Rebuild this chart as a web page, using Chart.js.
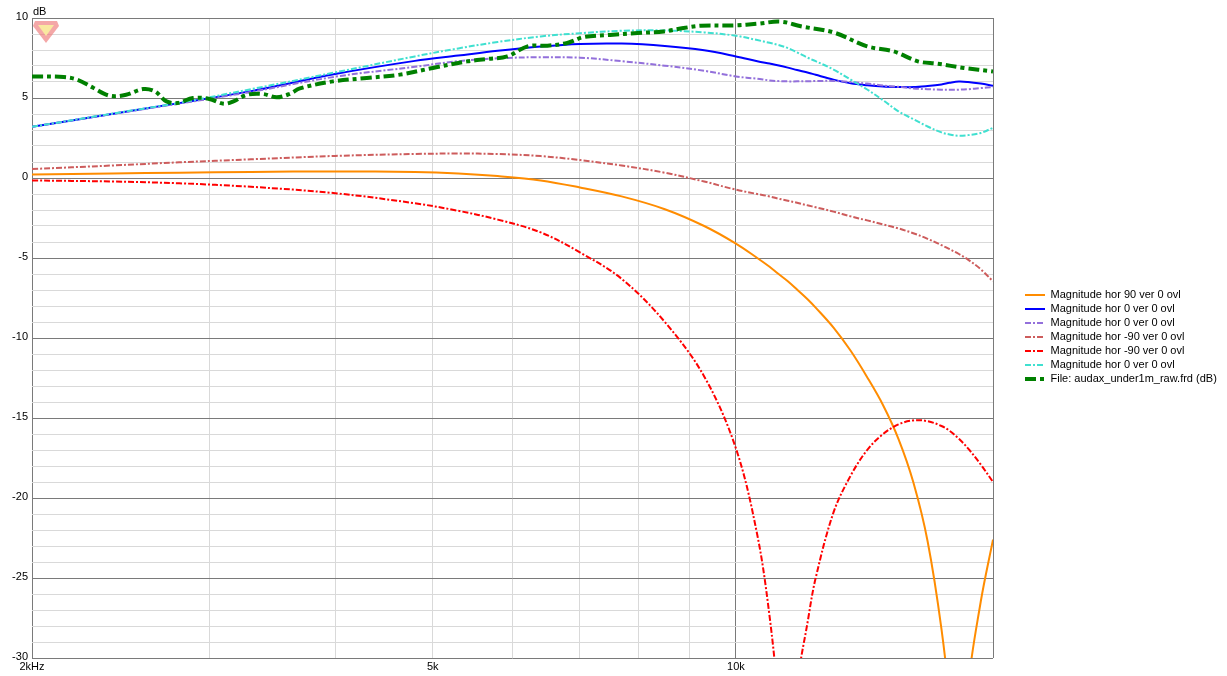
<!DOCTYPE html>
<html>
<head>
<meta charset="utf-8">
<title>Magnitude</title>
<script src="https://cdn.jsdelivr.net/npm/chart.js@4.4.1/dist/chart.umd.min.js"></script>
<style>
    html, body { margin: 0; padding: 0; background: #ffffff; }
    #contenedor { width: 1227px; height: 676px; }
</style>
</head>
<body>
<div id="contenedor"><canvas id="grafica" width="1227" height="676"></canvas></div>
<script>
// Frecuencias comunes (Hz) para las curvas simuladas
var frecuencias = [2000, 2400, 2800, 3300, 4000, 4800, 5300, 5800, 6400, 7000, 7700, 8500, 9300, 10000,
    10500, 10800, 11000, 11260, 11500, 11800, 12000, 12500, 13000, 13500, 14000, 14500, 15000, 15500,
    16000, 16300, 16650, 17000, 17500, 18000];

// Magnitudes en dB
var magHor90 = [0.22, 0.28, 0.33, 0.38, 0.41, 0.37, 0.28, 0.12, -0.15, -0.59, -1.15, -1.95, -3.0, -4.1,
    -5.0, -5.55, -5.95, -6.45, -6.97, -7.62, -8.1, -9.35, -10.8, -12.45, -14.2, -16.3, -19.0, -22.7,
    -28.2, -33, -45, -32, -26.5, -22.6];
var magHor0 = [3.2, 4.0, 4.68, 5.43, 6.5, 7.32, 7.65, 7.95, 8.22, 8.38, 8.4, 8.25, 7.98, 7.6,
    7.3, 7.15, 7.05, 6.9, 6.75, 6.58, 6.45, 6.15, 5.92, 5.8, 5.72, 5.69, 5.68, 5.75,
    5.85, 5.95, 6.03, 6.0, 5.9, 5.77];
var magHor0b = [3.2, 4.0, 4.65, 5.38, 6.33, 6.95, 7.3, 7.48, 7.55, 7.52, 7.3, 7.02, 6.7, 6.35,
    6.2, 6.1, 6.06, 6.04, 6.04, 6.05, 6.06, 6.07, 6.0, 5.9, 5.78, 5.7, 5.6, 5.55,
    5.52, 5.51, 5.52, 5.55, 5.62, 5.69];
var magHorM90 = [0.56, 0.78, 0.98, 1.17, 1.38, 1.5, 1.53, 1.5, 1.37, 1.12, 0.78, 0.33, -0.22, -0.73,
    -1.0, -1.15, -1.28, -1.42, -1.55, -1.72, -1.83, -2.1, -2.4, -2.65, -2.9, -3.15, -3.45, -3.8,
    -4.2, -4.45, -4.75, -5.1, -5.7, -6.46];
var magHorM90b = [-0.15, -0.22, -0.33, -0.55, -0.95, -1.58, -2.05, -2.6, -3.4, -4.65, -6.3, -9.0, -12.4, -16.9,
    -22.3, -27.4, -32.5, -45, -32, -27.5, -25, -20.9, -18.6, -17.0, -16.0, -15.4, -15.15, -15.2,
    -15.5, -15.8, -16.3, -16.9, -17.9, -19.0];
var magHor0c = [3.2, 4.02, 4.7, 5.55, 6.6, 7.6, 8.1, 8.5, 8.85, 9.05, 9.2, 9.22, 9.1, 8.89,
    8.62, 8.45, 8.33, 8.12, 7.85, 7.5, 7.3, 6.78, 6.15, 5.53, 4.86, 4.17, 3.68, 3.22,
    2.85, 2.72, 2.64, 2.68, 2.81, 3.14];

// Medicion del archivo (mas puntos porque tiene rizado)
var frecArchivo = [2000, 2150, 2220, 2300, 2390, 2480, 2580, 2650, 2720, 2790, 2890, 3000, 3100, 3170,
    3270, 3390, 3500, 3610, 3690, 3980, 4300, 4640, 5000, 5410, 5660, 5930, 6210, 6500, 6800,
    7060, 7500, 7990, 8480, 8870, 9230, 9990, 10500, 11080, 11600, 12500, 13500, 14350, 15160,
    15870, 16840, 18000];
var magArchivo = [6.35, 6.31, 6.14, 5.64, 5.14, 5.2, 5.56, 5.41, 4.79, 4.69, 5.0, 4.94, 4.64, 4.79,
    5.2, 5.25, 5.04, 5.27, 5.6, 6.04, 6.25, 6.46, 6.88, 7.29, 7.44, 7.6, 8.23, 8.27, 8.44,
    8.81, 8.94, 9.06, 9.16, 9.37, 9.52, 9.54, 9.64, 9.77, 9.48, 9.1, 8.23, 7.91, 7.29,
    7.14, 6.88, 6.66];

// Ejes
var xTicks = [2000, 3000, 4000, 5000, 6000, 7000, 8000, 9000, 10000, 18000];
var xEtiquetas = ['2kHz', '', '', '5k', '', '', '', '', '10k', ''];
var xMayores = [2000, 10000, 18000];
var yTicks = [-30, -29, -28, -27, -26, -25, -24, -23, -22, -21, -20, -19, -18, -17, -16, -15, -14, -13,
    -12, -11, -10, -9, -8, -7, -6, -5, -4, -3, -2, -1, 0, 1, 2, 3, 4, 5, 6, 7, 8, 9, 10];
var yMayores = [-30, -25, -20, -15, -10, -5, 0, 5, 10];

var colorMayor = '#7a7a7a';
var colorMenor = '#d9d9d9';
var fuente = "'Liberation Sans', Arial, sans-serif";

function puntos(frec, mags) {
    return frec.map(function (f, i) {
        return { x: f, y: mags[i] };
    });
}

function serie(label, frec, mags, color, ancho, guiones, orden) {
    return {
        label: label,
        data: puntos(frec, mags),
        borderColor: color,
        backgroundColor: color,
        borderWidth: ancho,
        borderDash: guiones,
        pointRadius: 0,
        fill: false,
        tension: 0.35,
        clip: 0,
        order: orden
    };
}

var rayaPunto = [6, 2, 2, 2];

var datasets = [
    serie('Magnitude hor 90 ver 0 ovl', frecuencias, magHor90, '#FF8C00', 2, [], 7),
    serie('Magnitude hor 0 ver 0 ovl', frecuencias, magHor0, '#0000FF', 2, [], 6),
    serie('Magnitude hor 0 ver 0 ovl', frecuencias, magHor0b, '#9370DB', 2, rayaPunto, 5),
    serie('Magnitude hor -90 ver 0 ovl', frecuencias, magHorM90, '#CD5C5C', 2, rayaPunto, 4),
    serie('Magnitude hor -90 ver 0 ovl', frecuencias, magHorM90b, '#FF0000', 2, rayaPunto, 3),
    serie('Magnitude hor 0 ver 0 ovl', frecuencias, magHor0c, '#40E0D0', 2, rayaPunto, 2),
    serie('File: audax_under1m_raw.frd (dB)', frecArchivo, magArchivo, '#008000', 4, [11, 4, 4, 4], 1)
];

// Ajustes de la leyenda y textos extra
var pluginExtras = {
    id: 'extras',
    beforeInit: function (chart) {
        var fitOriginal = chart.legend.fit;
        chart.legend.fit = function () {
            fitOriginal.call(this);
            this.width = 234;
        };
    },
    afterLayout: function (chart) {
        var leyenda = chart.legend;
        leyenda.left += 29;
        leyenda.right += 29;
        leyenda.top -= 10;
        leyenda.bottom -= 10;
    },
    beforeDatasetsDraw: function (chart) {
        // logo
        var ctx = chart.ctx;
        ctx.save();
        ctx.beginPath();
        ctx.moveTo(35, 21);
        ctx.lineTo(57, 21);
        ctx.lineTo(59, 26);
        ctx.lineTo(46, 43);
        ctx.lineTo(33, 26);
        ctx.closePath();
        ctx.fillStyle = 'rgba(238, 120, 120, 0.65)';
        ctx.fill();
        ctx.beginPath();
        ctx.moveTo(38, 25);
        ctx.lineTo(54, 25);
        ctx.lineTo(46, 36);
        ctx.closePath();
        ctx.fillStyle = 'rgba(250, 240, 160, 0.9)';
        ctx.fill();
        ctx.restore();
    },
    afterDraw: function (chart) {
        var ctx = chart.ctx;
        ctx.save();
        ctx.font = '11px ' + fuente;
        ctx.fillStyle = '#000000';
        ctx.textBaseline = 'alphabetic';
        ctx.fillText('dB', chart.chartArea.left + 1, chart.chartArea.top - 3);
        ctx.restore();
    }
};

var ctx = document.getElementById('grafica').getContext('2d');
var grafica = new Chart(ctx, {
    type: 'line',
    data: { datasets: datasets },
    plugins: [pluginExtras],
    options: {
        responsive: false,
        animation: false,
        layout: { padding: { top: 18, left: 0, right: 0, bottom: 0 } },
        plugins: {
            tooltip: { enabled: false },
            legend: {
                display: true,
                position: 'right',
                align: 'center',
                labels: {
                    color: '#000000',
                    font: { size: 11, family: fuente },
                    padding: 3,
                    usePointStyle: true,
                    pointStyleWidth: 20,
                    generateLabels: function (chart) {
                        return chart.data.datasets.map(function (ds, i) {
                            return {
                                text: ds.label,
                                datasetIndex: i,
                                strokeStyle: ds.borderColor,
                                fillStyle: ds.borderColor,
                                lineWidth: ds.borderWidth,
                                lineDash: ds.borderDash,
                                lineCap: 'butt',
                                pointStyle: 'line',
                                fontColor: '#000000',
                                hidden: false
                            };
                        });
                    }
                }
            }
        },
        scales: {
            x: {
                type: 'logarithmic',
                min: 2000,
                max: 18000,
                afterBuildTicks: function (scale) {
                    scale.ticks = xTicks.map(function (v) { return { value: v }; });
                },
                afterFit: function (scale) {
                    scale.height = 18;
                },
                ticks: {
                    autoSkip: false,
                    maxRotation: 0,
                    padding: 2,
                    color: '#000000',
                    font: { size: 11, family: fuente },
                    callback: function (value, index) {
                        return xEtiquetas[index];
                    }
                },
                grid: {
                    drawTicks: false,
                    lineWidth: 1,
                    color: function (c) {
                        return (c.tick && xMayores.indexOf(c.tick.value) >= 0) ? colorMayor : colorMenor;
                    }
                },
                border: { display: false }
            },
            y: {
                type: 'linear',
                min: -30,
                max: 10,
                afterBuildTicks: function (scale) {
                    scale.ticks = yTicks.map(function (v) { return { value: v }; });
                },
                afterFit: function (scale) {
                    scale.width = 32;
                },
                ticks: {
                    autoSkip: false,
                    padding: 4,
                    labelOffset: -1,
                    color: '#000000',
                    font: { size: 11, family: fuente },
                    callback: function (value) {
                        return yMayores.indexOf(value) >= 0 ? String(value) : '';
                    }
                },
                grid: {
                    drawTicks: false,
                    lineWidth: 1,
                    color: function (c) {
                        return (c.tick && yMayores.indexOf(c.tick.value) >= 0) ? colorMayor : colorMenor;
                    }
                },
                border: { display: false }
            }
        }
    }
});
</script>
</body>
</html>
